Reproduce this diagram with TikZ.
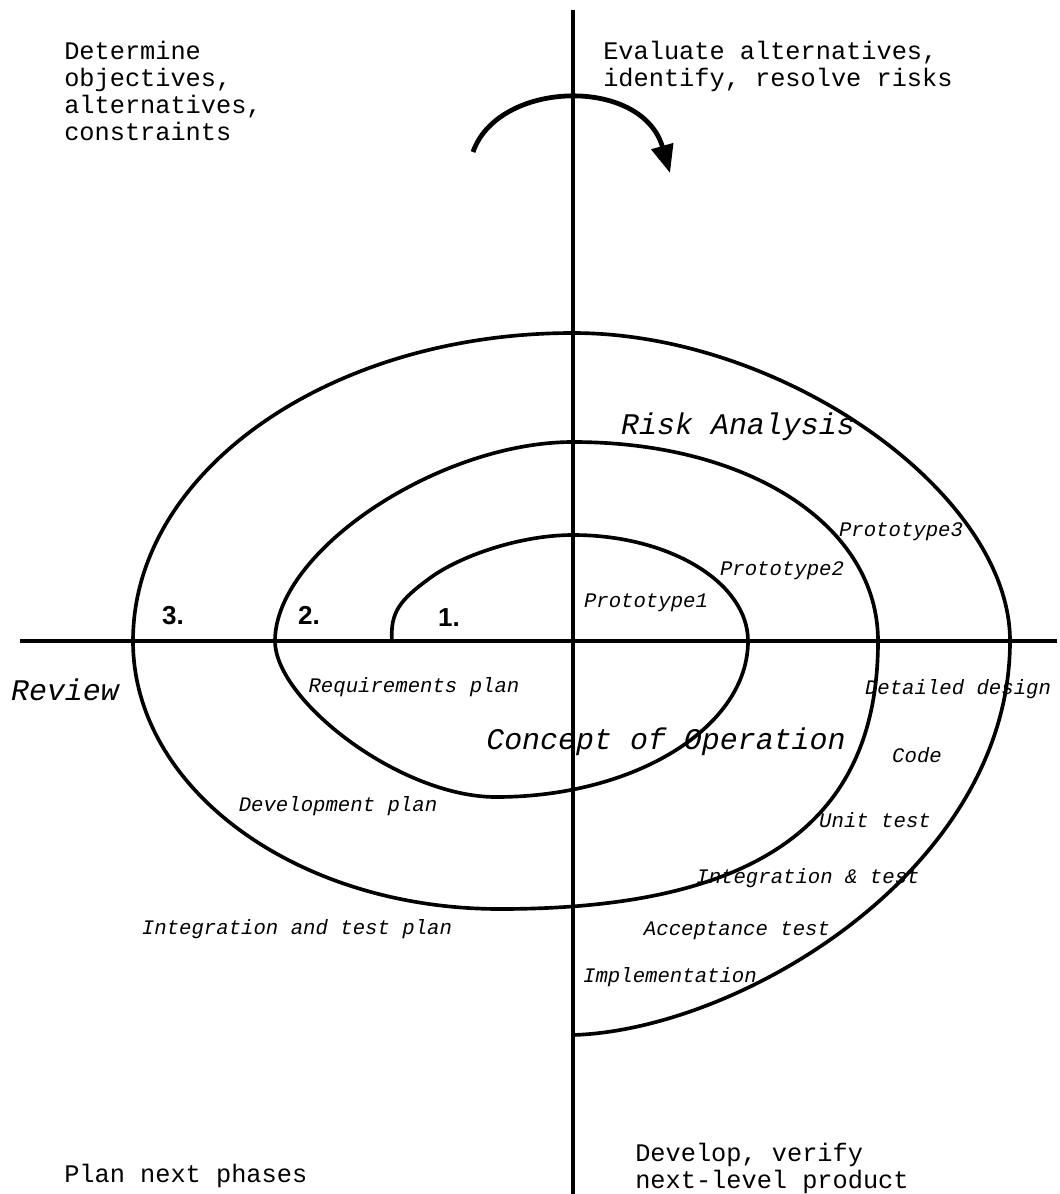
\documentclass[tikz,border=0pt]{standalone}
\usepackage{fontspec}
\setmonofont{Liberation Mono}
\setsansfont{Liberation Sans}
\usetikzlibrary{arrows.meta}

\begin{document}
\begin{tikzpicture}[x=0.25mm,y=-0.25mm,
  axis/.style={line width=2.2pt},
  spiral/.style={line width=2.6pt,line join=round},
  turn/.style={-{Triangle[length=7mm,width=5.5mm]},line width=3.4pt},
  quad/.style={font=\fontsize{18}{19.2}\selectfont\ttfamily,align=left,inner sep=0pt,anchor=north west},
  task/.style={font=\fontsize{14.7}{16}\selectfont\ttfamily\itshape,inner sep=0pt,anchor=base},
  phase/.style={font=\fontsize{21.3}{24}\selectfont\ttfamily\itshape,inner sep=0pt,anchor=base},
  cyclenum/.style={font=\fontsize{18.5}{20}\selectfont\sffamily\bfseries,inner sep=0pt,anchor=base}]
\useasboundingbox (0,0) rectangle (1059,1194);
% axes
\coordinate (top) at (573,10);
\coordinate (bot) at (573,1194);
\coordinate (west) at (20,641);
\coordinate (east) at (1057,641);
\draw[axis] (top) -- (bot);
\draw[axis] (west) -- (east);
% direction of the cycle
\coordinate (cycfrom) at (473,152);
\coordinate (cycto) at (670,173);
\draw[turn] (cycfrom) .. controls (498,80) and (642,76) .. (cycto);
% the spiral
\coordinate (core) at (392,641);
\coordinate (finish) at (573,1035);
\draw[spiral] (core) .. controls (390,612) and (400,600) .. (430,578)
  .. controls (460,556) and (520,535) .. (573,535)
  .. controls (670,535) and (748,583) .. (748,641)
  .. controls (748,727) and (635,797) .. (496,797)
  .. controls (400,797) and (275,700) .. (275,641)
  .. controls (275,551) and (439,442) .. (573,442)
  .. controls (750,442) and (878,526) .. (878,641)
  .. controls (878,823) and (757,909) .. (500,909)
  .. controls (297,909) and (133,789) .. (133,641)
  .. controls (133,471) and (330,333) .. (573,333)
  .. controls (783,333) and (1010,493) .. (1010,641)
  .. controls (1010,870) and (740,1030) .. (finish);
% quadrants
\node[quad] (objectives) at (64,41) {Determine\\objectives,\\alternatives,\\constraints};
\node[quad] (risks) at (603,41) {Evaluate alternatives,\\identify, resolve risks};
\node[quad] (planning) at (64,1164) {Plan next phases};
\node[quad] (product) at (635,1143) {Develop, verify\\next-level product};
% cycles
\node[cyclenum] (c3) at (173,624) {3.};
\node[cyclenum] (c2) at (309,624) {2.};
\node[cyclenum] (c1) at (449,626) {1.};
% phases and tasks
\node[phase] (riskan) at (738,434) {Risk Analysis};
\node[phase] (review) at (65,700) {Review};
\node[phase] (concept) at (666,749) {Concept of Operation};
\node[task] (proto3) at (901,536) {Prototype3};
\node[task] (proto2) at (782,575) {Prototype2};
\node[task] (proto1) at (646,607) {Prototype1};
\node[task] (reqplan) at (414,692) {Requirements plan};
\node[task] (detail) at (958,694) {Detailed design};
\node[task] (code) at (917,762) {Code};
\node[task] (devplan) at (338,811) {Development plan};
\node[task] (unit) at (875,827) {Unit test};
\node[task] (integ) at (808,883) {Integration \& test};
\node[task] (itplan) at (297,934) {Integration and test plan};
\node[task] (accept) at (737,935) {Acceptance test};
\node[task] (impl) at (670,982) {Implementation};
\end{tikzpicture}
\end{document}
